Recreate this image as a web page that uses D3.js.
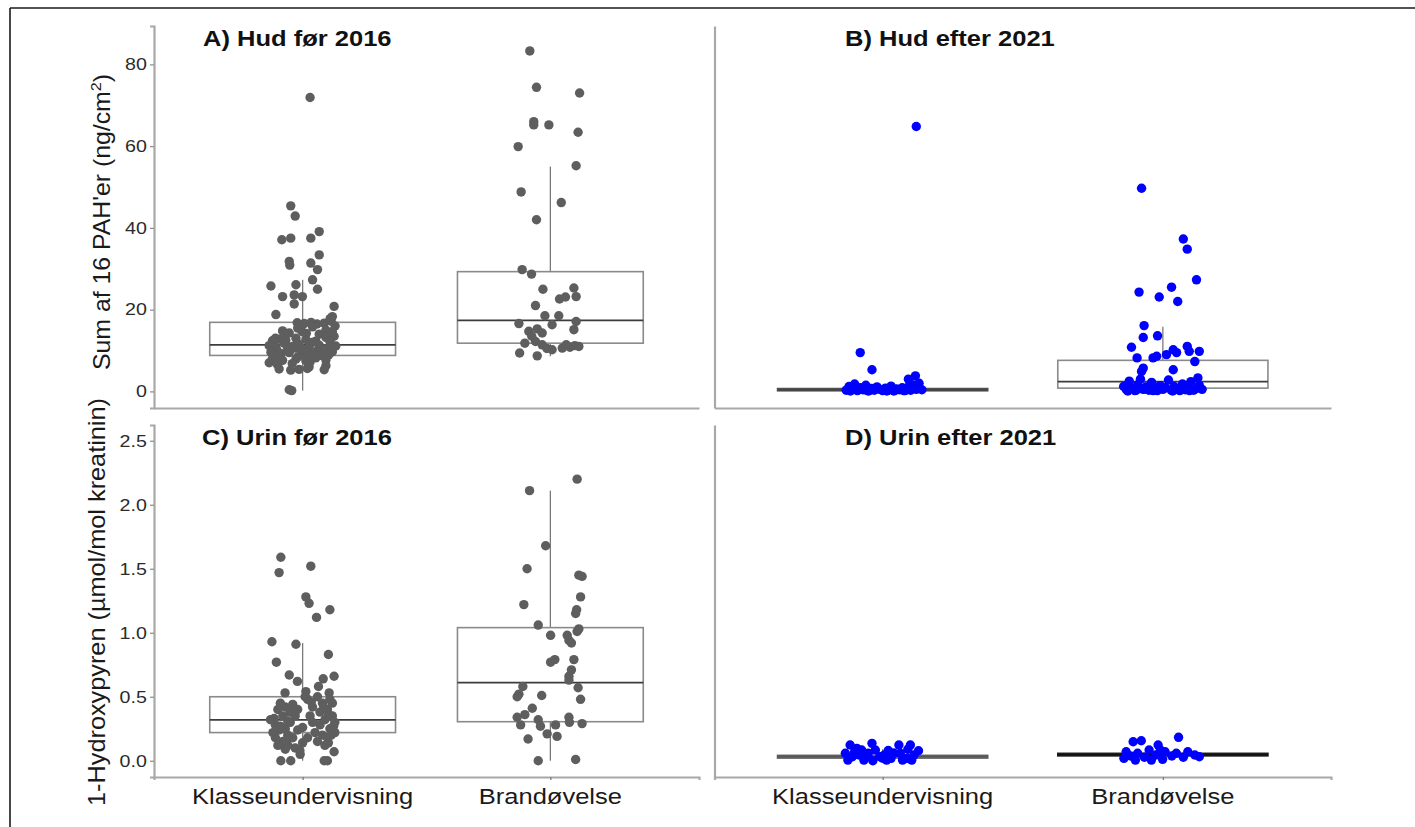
<!DOCTYPE html>
<html>
<head>
<meta charset="utf-8">
<script src="https://cdn.jsdelivr.net/npm/d3@7"></script>
<style>
  html, body { margin: 0; padding: 0; background: #fff; }
  svg { display: block; font-family: "Liberation Sans", Arial, sans-serif; }
</style>
</head>
<body>
<svg id="chart" width="1415" height="827"></svg>
<script>
// ---------------- DATA ----------------
const categories = ["Klasseundervisning", "Brandøvelse"];
const panelTitles = ["A) Hud før 2016", "B) Hud efter 2021", "C) Urin før 2016", "D) Urin efter 2021"];
const yTitleHud = "Sum af 16 PAH'er (ng/cm";
const yTitleHudSup = "2";
const yTitleUrin = "1-Hydroxypyren (µmol/mol kreatinin)";
const yTicksHud = [0, 20, 40, 60, 80];
const yTicksUrin = [0, 0.5, 1.0, 1.5, 2.0, 2.5];

// points: [value, jitter offset in category units]
const hudFoerKlasse = [
  [45.4,-0.048],[42.9,-0.030],[37.1,-0.084],[37.5,-0.048],[37.5,0.033],[39.1,0.067],
  [31.8,-0.054],[30.9,-0.052],[31.4,0.033],[29.8,0.060],[33.4,0.067],[27.3,0.040],
  [25.0,0.060],[25.8,-0.128],[26.1,-0.027],[23.2,-0.081],[23.6,-0.034],[23.2,-0.001],
  [21.4,-0.034],[18.8,-0.108],[20.8,0.127],[18.3,0.120],[71.9,0.030],[0.2,-0.044],[0.4,-0.054],
  [16.8,-0.022],[16.6,0.006],[16.9,0.034],[16.5,0.058],[16.7,0.087],[17.2,0.115],[17.8,0.111],
  [14.8,-0.081],[14.3,-0.054],[15.0,0.094],[14.6,0.120],
  [12.4,-0.122],[12.8,-0.095],[12.5,-0.068],[13.0,-0.027],[12.7,0.013],[12.3,0.053],[13.2,0.094],
  [11.2,-0.135],[10.8,-0.108],[11.0,-0.041],[11.5,-0.014],[10.9,0.026],[11.3,0.067],[10.7,0.107],[11.1,0.134],
  [9.6,-0.128],[9.2,-0.088],[9.5,-0.054],[9.8,-0.001],[9.1,0.040],[9.4,0.087],[9.7,0.120],
  [8.0,-0.122],[7.6,-0.081],[7.9,-0.027],[7.5,0.013],[8.2,0.053],[7.7,0.094],
  [6.6,-0.102],[6.3,0.094],[7.0,-0.135],
  [5.5,-0.095],[5.2,-0.048],[5.4,-0.014],[5.6,0.019],[5.3,0.087],
  [10.2,-0.062],[10.0,0.010],[9.9,0.058],[8.5,-0.018],[8.8,0.075],[10.0,-0.103],[12.0,0.038],
  [13.8,-0.071],[14.0,0.067],[14.6,-0.002],[16.0,0.131],[13.5,0.127],[9.0,-0.119],[6.0,0.026],[6.8,-0.042],
  [13.0,-0.11],[15.5,-0.02],[15.8,0.04],[12.2,0.11],[10.4,0.09],[8.3,-0.10],[7.2,0.03],
  [11.8,-0.075],[9.3,0.015],[14.2,0.015],[10.6,-0.03],[8.9,0.105]
];
const hudFoerBrand = [
  [83.3,-0.083],[74.4,-0.056],[73.0,0.118],[66.0,-0.067],[65.2,-0.067],[65.2,-0.006],
  [63.4,0.112],[59.9,-0.130],[55.2,0.104],[48.8,-0.118],[46.2,0.044],[42.0,-0.056],
  [29.8,-0.114],[28.7,-0.076],[25.0,-0.030],[25.3,0.095],[23.2,0.104],[22.6,0.037],
  [23.1,0.061],[21.0,-0.060],[18.5,-0.022],[18.5,0.034],[16.6,-0.127],[16.3,0.007],
  [17.1,0.104],[15.1,0.095],[14.7,-0.087],[15.3,-0.053],[14.3,-0.033],[11.8,-0.103],
  [12.2,-0.060],[11.4,-0.033],[10.2,0.007],[10.6,0.048],[11.4,0.064],[11.2,0.099],
  [11.0,0.115],[9.4,-0.124],[8.7,-0.053],[10.5,-0.014],[10.8,0.079],[13.5,-0.075]
];
const hudEfterKlasse = [
  [64.8,0.120],[9.5,-0.080],[5.3,-0.038],[3.8,0.117],[3.0,0.092],
  [0.3,-0.13],[1.2,-0.12],[0.6,-0.11],[1.8,-0.10],[0.2,-0.09],[0.9,-0.08],[0.4,-0.07],
  [1.5,-0.06],[0.1,-0.05],[0.7,-0.04],[0.3,-0.03],[1.1,-0.02],[0.5,-0.01],[0.2,0.0],
  [0.8,0.01],[0.3,0.02],[1.3,0.03],[0.1,0.04],[0.6,0.05],[0.4,0.06],[0.9,0.07],
  [0.2,0.08],[1.0,0.09],[0.3,0.10],[1.6,0.11],[0.5,0.12],[2.0,0.13],[0.4,0.14],
  [0.1,-0.115],[0.5,-0.085],[0.2,-0.055],[0.6,-0.025],[0.1,0.015],[0.3,0.045],
  [0.2,0.075],[0.8,0.105],[1.2,0.125]
];
const hudEfterBrand = [
  [49.7,-0.076],[37.3,0.073],[34.8,0.087],[27.3,0.120],[24.3,-0.085],[25.5,0.031],
  [23.1,-0.013],[22.0,0.053],[16.1,-0.067],[13.2,-0.070],[13.6,-0.019],[10.8,-0.112],
  [10.2,0.037],[9.5,0.049],[11.0,0.087],[9.8,0.094],[9.8,0.130],[7.3,0.114],
  [8.2,-0.092],[8.2,-0.035],[8.6,-0.022],[9.0,0.013],[5.7,-0.070],[4.9,-0.076],[5.3,0.037],
  [1.2,-0.14],[0.4,-0.13],[2.5,-0.12],[0.8,-0.11],[0.2,-0.10],[1.6,-0.09],[3.0,-0.08],
  [0.5,-0.07],[1.1,-0.06],[0.3,-0.05],[2.2,-0.04],[0.7,-0.03],[0.2,-0.02],[1.4,-0.01],
  [0.5,0.0],[0.9,0.01],[2.8,0.02],[0.3,0.03],[1.2,0.04],[0.6,0.05],[0.2,0.06],[1.8,0.07],
  [0.4,0.08],[1.0,0.09],[2.4,0.10],[0.3,0.11],[0.7,0.12],[1.5,0.13],[0.5,0.14],
  [0.1,-0.125],[0.3,-0.095],[0.6,-0.065],[0.2,-0.035],[0.8,0.005],[0.1,0.035],
  [0.4,0.065],[0.2,0.095],[3.3,0.125]
];
const urinFoerKlasse = [
  [1.59,-0.088],[1.47,-0.095],[1.52,0.033],[1.28,0.013],[1.23,0.026],[1.18,0.110],
  [1.12,0.056],[0.93,-0.124],[0.91,-0.027],[0.77,-0.106],[0.83,0.104],[0.67,-0.054],
  [0.62,-0.021],[0.64,0.083],[0.66,0.127],[0.58,0.064],[0.53,-0.071],[0.54,0.013],
  [0.53,0.107],[0.14,0.104],[0.07,0.127],[0.08,-0.011],[0.0,-0.088],[0.0,-0.048],
  [0.0,0.087],[0.0,0.100],
  [0.32,-0.13],[0.28,-0.11],[0.22,-0.12],[0.40,-0.10],[0.45,-0.09],[0.35,-0.08],
  [0.25,-0.07],[0.20,-0.06],[0.30,-0.05],[0.15,-0.08],[0.12,-0.06],[0.18,-0.04],
  [0.10,-0.03],[0.38,-0.05],[0.18,-0.11],[0.27,-0.09],[0.42,-0.07],[0.44,-0.04],
  [0.24,-0.02],[0.12,-0.10],[0.35,-0.03],[0.31,-0.06],
  [0.48,0.02],[0.42,0.04],[0.50,0.06],[0.45,0.08],[0.40,0.10],[0.35,0.12],[0.30,0.13],
  [0.25,0.11],[0.32,0.09],[0.28,0.07],[0.22,0.05],[0.35,0.03],[0.15,0.06],[0.20,0.08],
  [0.18,0.10],[0.45,0.12],[0.30,0.04],[0.12,0.09],[0.38,0.07],[0.48,0.11],[0.22,0.13],
  [0.26,0.0],[0.18,0.02],[0.05,-0.01],[0.14,0.0],[0.40,-0.02],
  [0.33,-0.115],[0.24,-0.095],[0.16,-0.065],[0.09,-0.07],[0.20,0.115],[0.27,0.125],
  [0.42,0.085],[0.36,0.105],[0.50,0.01],[0.46,0.035]
];
const urinFoerBrand = [
  [2.20,0.108],[2.11,-0.084],[1.68,-0.019],[1.50,-0.094],[1.45,0.115],[1.44,0.128],
  [1.28,0.122],[1.22,-0.107],[1.18,0.106],[1.15,0.102],[1.06,-0.049],[1.03,0.115],
  [1.01,0.108],[0.98,0.001],[0.98,0.068],[0.94,0.075],[0.92,0.085],[0.77,0.001],
  [0.79,0.018],[0.79,0.095],[0.71,0.085],[0.66,0.075],[0.63,0.075],[0.58,-0.111],
  [0.52,-0.127],[0.50,-0.134],[0.51,-0.035],[0.57,0.112],[0.48,0.122],[0.41,-0.073],
  [0.36,-0.103],[0.34,-0.134],[0.28,-0.120],[0.32,-0.049],[0.27,-0.040],[0.34,0.075],
  [0.30,0.077],[0.29,0.128],[0.28,0.021],[0.21,-0.013],[0.19,0.027],[0.17,-0.090],
  [0.0,-0.049],[0.01,0.102]
];
const urinEfterKlasse = [
  [0.123,-0.116],[0.097,-0.092],[0.058,-0.133],[0.031,-0.108],[0.005,-0.124],[0.045,-0.084],
  [0.005,-0.067],[0.136,-0.038],[0.084,-0.026],[0.058,-0.051],[0.031,-0.010],[0.0,-0.035],
  [0.045,0.006],[0.005,0.014],[0.123,0.058],[0.123,0.099],[0.058,0.063],[0.019,0.087],
  [0.005,0.071],[0.078,0.128],[0.045,0.112],[0.005,0.104],[0.019,0.030],[0.084,-0.075],
  [0.07,-0.10],[0.02,0.0],[0.06,0.04],[0.03,-0.06],[0.09,0.09],[0.08,0.02]
];
const urinEfterBrand = [
  [0.183,0.056],[0.148,-0.106],[0.156,-0.077],[0.123,-0.017],[0.070,-0.131],[0.037,-0.115],
  [0.019,-0.139],[0.058,-0.090],[0.027,-0.066],[0.084,-0.049],[0.045,-0.025],[0.011,-0.001],
  [0.070,0.008],[0.037,0.032],[0.058,0.048],[0.027,0.073],[0.070,0.089],[0.045,0.114],
  [0.031,0.130],[0.005,-0.041],[0.084,-0.009],[0.005,-0.098]
];

// box stats: [lower whisker, Q1, median, Q3, upper whisker]
const boxHudFoer   = [[0.2, 8.8, 11.4, 16.9, 27.3], [8.6, 11.8, 17.4, 29.3, 55.0]];
const boxHudEfter  = [[0.0, 0.15, 0.4, 0.7, 1.4],  [0.0, 0.8, 2.4, 7.6, 15.8]];
const boxUrinFoer  = [[0.0, 0.22, 0.32, 0.50, 0.92], [0.0, 0.305, 0.61, 1.04, 2.11]];
const boxUrinEfter = [[0.0, 0.021, 0.031, 0.042, 0.09], [0.0, 0.038, 0.047, 0.058, 0.10]];

// ---------------- DRAW ----------------
const svg = d3.select("#chart");
const TXT = 1.16; // horizontal glyph widening of the original rendering

// outer frame (top + left only visible)
svg.append("line").attr("x1", 10).attr("y1", 8).attr("x2", 1415).attr("y2", 8)
  .attr("stroke", "#1a1a1a").attr("stroke-width", 1.6);
svg.append("line").attr("x1", 10).attr("y1", 8).attr("x2", 10).attr("y2", 827)
  .attr("stroke", "#1a1a1a").attr("stroke-width", 1.6);

const GREY = "#5e5e5e", BLUE = "#0000ff";
const AXIS = "#a8a8a8";

function drawPanel(cfg) {
  const g = svg.append("g");
  const x = d3.scaleLinear().domain([0.4, 2.6]).range([cfg.x0, cfg.x1]);
  const y = d3.scaleLinear().domain(cfg.yDomain).range([cfg.y1, cfg.y0]);
  const unit = x(2) - x(1);

  // y axis
  const ya = d3.axisLeft(y).tickValues(cfg.ticks).tickSizeOuter(0)
    .tickSize(cfg.showY ? 4 : 0).tickPadding(2)
    .tickFormat(cfg.showY ? cfg.fmt : () => "");
  const yg = g.append("g").attr("transform", `translate(${cfg.x0},0)`).call(ya);
  yg.select(".domain").attr("stroke", AXIS).attr("stroke-width", 2.2);
  yg.selectAll(".tick line").attr("stroke", "#8a8a8a").attr("stroke-width", 1.2);
  yg.selectAll(".tick text").attr("fill", "#2b2b2b").attr("font-size", 16.5)
    .attr("font-family", "Liberation Sans, Arial, sans-serif")
    .attr("transform", `scale(${TXT + 0.03},1)`);

  // x axis
  const xa = d3.axisBottom(x).tickValues([1, 2]).tickSizeOuter(0)
    .tickSize(cfg.showX ? 3 : 0).tickFormat(() => "");
  const xg = g.append("g").attr("transform", `translate(0,${cfg.y1})`).call(xa);
  xg.select(".domain").attr("stroke", AXIS).attr("stroke-width", 2.2);
  xg.selectAll(".tick line").attr("stroke", "#777").attr("stroke-width", 1.2);

  if (cfg.showX) {
    categories.forEach((c, i) => {
      g.append("text").attr("transform", `translate(${x(i + 1)},${cfg.y1 + 27}) scale(${TXT},1)`)
        .attr("text-anchor", "middle").attr("font-size", 22).attr("fill", "#1a1a1a").text(c);
    });
  }

  // title
  g.append("text").attr("transform", `translate(${cfg.titleX},${cfg.y0 + 20}) scale(${TXT},1)`)
    .attr("font-size", 22).attr("font-weight", "bold").attr("fill", "#111").text(cfg.title);

  // boxes
  cfg.groups.forEach((grp, i) => {
    const cx = x(i + 1);
    const [lo, q1, med, q3, hi] = grp.box;
    const hw = 0.375 * unit;
    g.append("line").attr("x1", cx).attr("x2", cx).attr("y1", y(q3)).attr("y2", y(hi))
      .attr("stroke", "#7a7a7a").attr("stroke-width", 1.3);
    g.append("line").attr("x1", cx).attr("x2", cx).attr("y1", y(q1)).attr("y2", y(lo))
      .attr("stroke", "#7a7a7a").attr("stroke-width", 1.3);
    g.append("rect").attr("x", cx - hw).attr("width", 2 * hw)
      .attr("y", y(q3)).attr("height", Math.max(0.01, y(q1) - y(q3)))
      .attr("fill", "#fff").attr("stroke", grp.boxStroke || "#8a8a8a").attr("stroke-width", 1.6);
    g.append("line").attr("x1", cx - hw).attr("x2", cx + hw).attr("y1", y(med)).attr("y2", y(med))
      .attr("stroke", grp.medStroke || "#3c3c3c").attr("stroke-width", 1.8);
  });

  // points
  cfg.groups.forEach((grp, i) => {
    g.append("g").selectAll("circle").data(grp.pts).join("circle")
      .attr("cx", d => x(i + 1 + d[1]))
      .attr("cy", d => y(d[0]))
      .attr("r", 4.7)
      .attr("fill", cfg.color);
  });
}

const hudDomain = [-4.06, 89.4];
const urinDomain = [-0.127, 2.623];
const fmtHud = d3.format("d");
const fmtUrin = d3.format(".1f");

drawPanel({ x0: 154, x1: 699, y0: 26, y1: 408, yDomain: hudDomain, ticks: yTicksHud, fmt: fmtHud,
  showY: true, showX: false, title: panelTitles[0], titleX: 203, color: GREY,
  groups: [{ pts: hudFoerKlasse, box: boxHudFoer[0] }, { pts: hudFoerBrand, box: boxHudFoer[1] }] });
drawPanel({ x0: 714.5, x1: 1331, y0: 26, y1: 408, yDomain: hudDomain, ticks: yTicksHud, fmt: fmtHud,
  showY: false, showX: false, title: panelTitles[1], titleX: 845, color: BLUE,
  groups: [{ pts: hudEfterKlasse, box: boxHudEfter[0], boxStroke: "#555", medStroke: "#444" }, { pts: hudEfterBrand, box: boxHudEfter[1] }] });
drawPanel({ x0: 154, x1: 699, y0: 425, y1: 777, yDomain: urinDomain, ticks: yTicksUrin, fmt: fmtUrin,
  showY: true, showX: true, title: panelTitles[2], titleX: 202, color: GREY,
  groups: [{ pts: urinFoerKlasse, box: boxUrinFoer[0] }, { pts: urinFoerBrand, box: boxUrinFoer[1] }] });
drawPanel({ x0: 714.5, x1: 1331, y0: 425, y1: 777, yDomain: urinDomain, ticks: yTicksUrin, fmt: fmtUrin,
  showY: false, showX: true, title: panelTitles[3], titleX: 845, color: BLUE,
  groups: [{ pts: urinEfterKlasse, box: boxUrinEfter[0], boxStroke: "#5e5e5e", medStroke: "#555" },
           { pts: urinEfterBrand, box: boxUrinEfter[1], boxStroke: "#222", medStroke: "#111" }] });

// y axis titles
const t1 = svg.append("text")
  .attr("transform", `translate(110,222) rotate(-90) scale(1.08,1)`)
  .attr("text-anchor", "middle").attr("font-size", 23).attr("fill", "#1a1a1a");
t1.append("tspan").text(yTitleHud);
t1.append("tspan").attr("dy", -9).attr("font-size", 15).text(yTitleHudSup);
t1.append("tspan").attr("dy", 9).text(")");

svg.append("text")
  .attr("transform", `translate(105,602) rotate(-90) scale(1.1,1)`)
  .attr("text-anchor", "middle").attr("font-size", 23).attr("fill", "#1a1a1a")
  .text(yTitleUrin);
</script>
</body>
</html>
